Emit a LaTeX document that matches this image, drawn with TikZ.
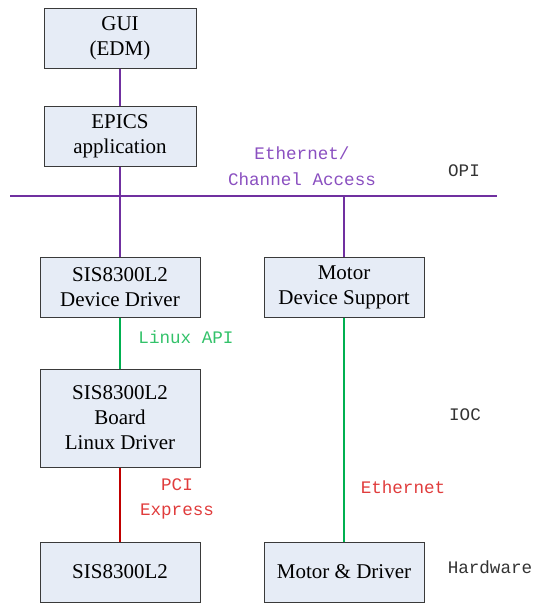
\documentclass[tikz,border=0pt]{standalone}
\usepackage{fontspec}
\setmainfont{Liberation Serif}
\newfontfamily\labelfont{Liberation Mono}
\definecolor{boxfill}{HTML}{E6ECF6}
\definecolor{boxline}{HTML}{3A3A3A}
\definecolor{capurple}{HTML}{7030A0}
\definecolor{apigreen}{HTML}{00B050}
\definecolor{pcired}{HTML}{C00000}
\definecolor{txtpurple}{HTML}{8A4FC0}
\definecolor{txtgreen}{HTML}{33C26A}
\definecolor{txtred}{HTML}{E03C3C}

\begin{document}
\begin{tikzpicture}[x=1pt,y=-1pt,
    block/.style={draw=boxline,fill=boxfill,line width=1pt,minimum height=60pt,
        align=center,font=\fontsize{21}{25}\selectfont,inner sep=0pt},
    link/.style={line width=2pt},
    tag/.style={font=\labelfont\fontsize{17.6}{25.5}\selectfont,align=center,inner sep=0pt}]
\useasboundingbox (0,0) rectangle (534,603);
% boxes
\node[block,minimum width=152pt] (gui) at (120,38) {GUI\\(EDM)};
\node[block,minimum width=152pt] (epics) at (120,136) {EPICS\\application};
\node[block,minimum width=160pt] (devdrv) at (120,287) {SIS8300L2\\Device Driver};
\node[block,minimum width=160pt] (motsup) at (344,287) {Motor\\Device Support};
\node[block,minimum width=160pt,minimum height=98pt] (board) at (120,418) {SIS8300L2\\Board\\Linux Driver};
\node[block,minimum width=160pt] (sis) at (120,572) {SIS8300L2};
\node[block,minimum width=160pt] (motdrv) at (344,572) {Motor \& Driver};
% channel access bus
\coordinate (buswest) at (10,196);
\coordinate (buseast) at (497,196);
\coordinate (bustap) at (motsup.north |- buswest);
\draw[link,capurple] (buswest) -- (buseast);
\draw[link,capurple] (gui) -- (epics);
\draw[link,capurple] (epics) -- (devdrv);
\draw[link,capurple] (bustap) -- (motsup);
\draw[link,apigreen] (devdrv) -- (board);
\draw[link,pcired] (board) -- (sis);
\draw[link,apigreen] (motsup) -- (motdrv);
% labels
\node[tag,txtpurple] (calabel) at (302,166) {Ethernet/\\Channel Access};
\node[tag,txtgreen] (apilabel) at (186,337) {Linux API};
\node[tag,txtred] (pcilabel) at (177,499) {PCI\\Express};
\node[tag,txtred] (ethlabel) at (403,487) {Ethernet};
\node[tag,black!80] (opi) at (464,171) {OPI};
\node[tag,black!80] (ioc) at (465,415) {IOC};
\node[tag,black!80] (hw) at (490,567) {Hardware};
\end{tikzpicture}
\end{document}
